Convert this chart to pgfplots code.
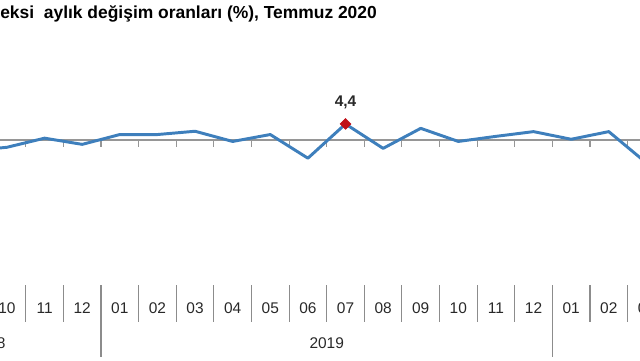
\documentclass[border=0pt]{standalone}
\usepackage{pgfplots}
\pgfplotsset{compat=1.18}
\usepackage{fontspec}
\setmainfont{Liberation Sans}
\definecolor{lineblue}{RGB}{62,127,188}
\definecolor{mred}{RGB}{192,16,24}
\definecolor{zgray}{RGB}{150,150,150}
\definecolor{sgray}{RGB}{140,140,140}
\definecolor{lblack}{RGB}{40,40,40}
\begin{document}
\begin{tikzpicture}
\useasboundingbox (0,0) rectangle (16cm,9cm);
\begin{axis}[at={(0,0)}, anchor=south west, scale only axis,
  width=16cm, height=9cm,
  xmin=-0.186, xmax=16.83, ymin=-60.44, ymax=38.46,
  axis lines=none, xtick=\empty, ytick=\empty, clip=true]
% zero line and ticks
\draw[zgray, line width=0.8pt] (axis cs:-4,0) -- (axis cs:22,0);
\pgfplotsinvokeforeach{-2.5,-1.5,-0.5,0.5,1.5,2.5,3.5,4.5,5.5,6.5,7.5,8.5,9.5,10.5,11.5,12.5,13.5,14.5,15.5,16.5,17.5,18.5,19.5,20.5}{
  \draw[zgray, line width=0.8pt] (axis cs:#1,0) -- (axis cs:#1,-1.9);
  \draw[sgray, line width=0.8pt] (axis cs:#1,-39.84) -- (axis cs:#1,-50);
}
% year separators
\pgfplotsinvokeforeach{-3.5,2.5,14.5}{
  \draw[sgray, line width=0.8pt] (axis cs:#1,-39.84) -- (axis cs:#1,-59.6);
}
% data
\addplot[lineblue, line width=2.1pt, mark=none, line join=round] coordinates {
 (-3,0.5) (-2,-1.2) (-1,-3.0) (0,-2.0) (1,0.5) (2,-1.2) (3,1.5) (4,1.5)
 (5,2.4) (6,-0.4) (7,1.5) (8,-5.0) (9,4.4) (10,-2.3) (11,3.2) (12,-0.4)
 (13,1.0) (14,2.3) (15,0.2) (16,2.3) (17,-6.3) (18,-31.4) (19,17.4)
 (20,18.2) (21,8.4)};
\addplot[only marks, mark=square*, mred, mark options={draw=mred, fill=mred, rotate=45, mark size=2.7pt}] coordinates {(9,4.4)};
\node[font=\bfseries\fontsize{11}{13}\selectfont, text=lblack] at (axis cs:9,10.2) {4,4};
% title
\node[anchor=base west, inner sep=0pt, font=\bfseries\fontsize{12.4}{15}\selectfont]
  at (axis cs:-0.186,33.24) {eksi\ \ aylık değişim oranları (\%), Temmuz 2020};
% month labels
\begin{scope}[every node/.style={font=\fontsize{11}{13}\selectfont, text=lblack}]
\node at (axis cs:-3,-46.15) {07};
\node at (axis cs:-2,-46.15) {08};
\node at (axis cs:-1,-46.15) {09};
\node at (axis cs:0,-46.15) {10};
\node at (axis cs:1,-46.15) {11};
\node at (axis cs:2,-46.15) {12};
\node at (axis cs:3,-46.15) {01};
\node at (axis cs:4,-46.15) {02};
\node at (axis cs:5,-46.15) {03};
\node at (axis cs:6,-46.15) {04};
\node at (axis cs:7,-46.15) {05};
\node at (axis cs:8,-46.15) {06};
\node at (axis cs:9,-46.15) {07};
\node at (axis cs:10,-46.15) {08};
\node at (axis cs:11,-46.15) {09};
\node at (axis cs:12,-46.15) {10};
\node at (axis cs:13,-46.15) {11};
\node at (axis cs:14,-46.15) {12};
\node at (axis cs:15,-46.15) {01};
\node at (axis cs:16,-46.15) {02};
\node at (axis cs:17,-46.15) {03};
\node at (axis cs:18,-46.15) {04};
\node at (axis cs:19,-46.15) {05};
\node at (axis cs:20,-46.15) {06};
\node at (axis cs:21,-46.15) {07};
\node at (axis cs:-0.5,-55.77) {2018};
\node at (axis cs:8.5,-55.77) {2019};
\node at (axis cs:18,-55.77) {2020};
\end{scope}
\end{axis}
\end{tikzpicture}
\end{document}
